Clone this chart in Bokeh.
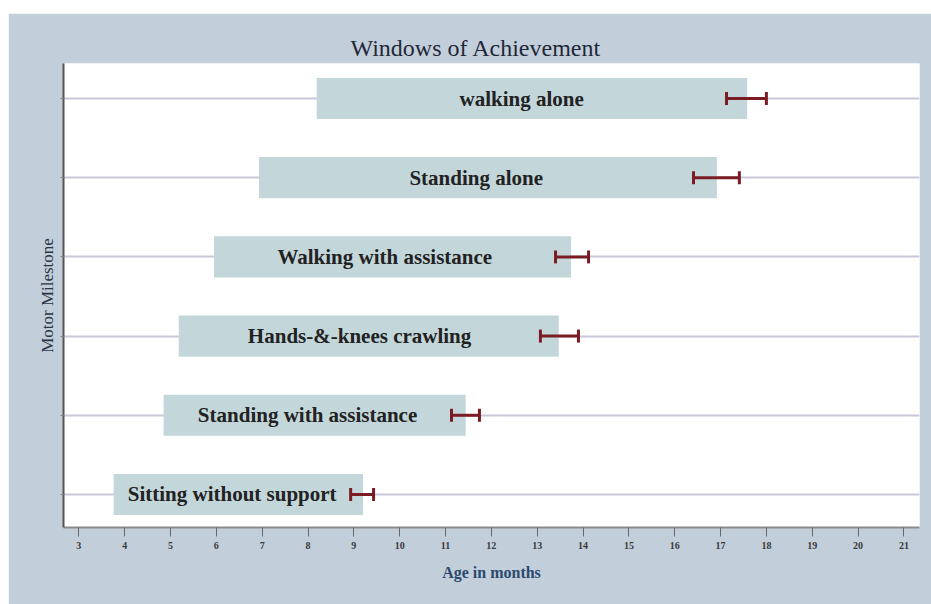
from bokeh.plotting import figure
from bokeh.models import ColumnDataSource, Range1d, FixedTicker, Whisker, TeeHead
from bokeh.core.properties import value
from bokeh.embed import file_html
from bokeh.resources import INLINE

# Data (months)
milestones = ["Sitting without support", "Standing with assistance", "Hands-&-knees crawling",
              "Walking with assistance", "Standing alone", "walking alone"]
rows = [1, 2, 3, 4, 5, 6]
window_start = [3.76, 4.85, 5.18, 5.95, 6.93, 8.19]
window_end = [9.2, 11.44, 13.47, 13.74, 16.92, 17.58]
err_low = [8.93, 11.13, 13.07, 13.40, 16.41, 17.13]
err_high = [9.43, 11.74, 13.90, 14.12, 17.41, 18.0]
x_ticks = list(range(3, 22))

label_x = [(s + e) / 2 for s, e in zip(window_start, err_low)]

src = ColumnDataSource(dict(name=milestones, y=rows, start=window_start, end=window_end,
                            lo=err_low, hi=err_high, tx=label_x))

SERIF = value("Liberation Serif")
BG = "#c3cedb"

p = figure(width=923, height=591, output_backend="svg", toolbar_location=None,
           x_range=Range1d(2.666, 21.34), y_range=Range1d(0.583, 6.442),
           min_border_left=55, min_border_right=12, min_border_top=50, min_border_bottom=77,
           title="Windows of Achievement")
p.margin = (13, 0, 0, 8)
p.border_fill_color = BG
p.background_fill_color = "white"
p.outline_line_color = None

p.title.align = "left"
p.title.offset = 287
p.title.text_font = "Liberation Serif"
p.title.text_font_size = "24px"
p.title.text_font_style = "normal"
p.title.text_color = "#1e2838"
p.title.standoff = 5

# grid
p.xgrid.visible = False
p.ygrid.ticker = FixedTicker(ticks=rows)
p.ygrid.grid_line_color = "#c8c8da"
p.ygrid.grid_line_width = 2

# bars
p.hbar(y="y", left="start", right="end", height=0.52, source=src,
       fill_color="#c3d7db", line_color=None)

# labels
p.text(x="tx", y="y", text="name", source=src, text_align="center", text_baseline="middle",
       text_font=SERIF, text_font_style="bold", text_font_size="21px", text_color="#222222")

# error bars (drawn above bars)
err_color = "#7b1c24"
w = Whisker(source=src, base="y", lower="lo", upper="hi", dimension="width",
            line_color=err_color, line_width=3, level="annotation",
            lower_head=TeeHead(size=13, line_color=err_color, line_width=3),
            upper_head=TeeHead(size=13, line_color=err_color, line_width=3))
p.add_layout(w)

# x axis
xa = p.xaxis[0]
xa.ticker = FixedTicker(ticks=x_ticks)
xa.axis_label = "Age in months"
xa.axis_label_text_font = "Liberation Serif"
xa.axis_label_text_font_style = "bold"
xa.axis_label_text_font_size = "16px"
xa.axis_label_text_color = "#2b4a6d"
xa.axis_label_standoff = 12
xa.major_label_text_font = "Liberation Serif"
xa.major_label_text_font_style = "bold"
xa.major_label_text_font_size = "10px"
xa.major_label_text_color = "#3a3a3a"
xa.major_label_standoff = 5
xa.axis_line_color = "#8a8a8a"
xa.axis_line_width = 2
xa.major_tick_line_color = "#6a6a6a"
xa.major_tick_in = 0
xa.major_tick_out = 9
xa.minor_tick_line_color = None

# y axis
ya = p.yaxis[0]
ya.ticker = FixedTicker(ticks=rows)
ya.major_label_overrides = {r: "" for r in rows}
ya.axis_label = "Motor Milestone"
ya.axis_label_text_font = "Liberation Serif"
ya.axis_label_text_font_style = "normal"
ya.axis_label_text_font_size = "17px"
ya.axis_label_text_color = "#2a3445"
ya.axis_label_standoff = 4
ya.axis_line_color = "#555555"
ya.axis_line_width = 2
ya.major_tick_line_color = "#8a8a8a"
ya.major_tick_in = 0
ya.major_tick_out = 3
ya.minor_tick_line_color = None

open("out.html", "w").write(file_html(p, INLINE))
